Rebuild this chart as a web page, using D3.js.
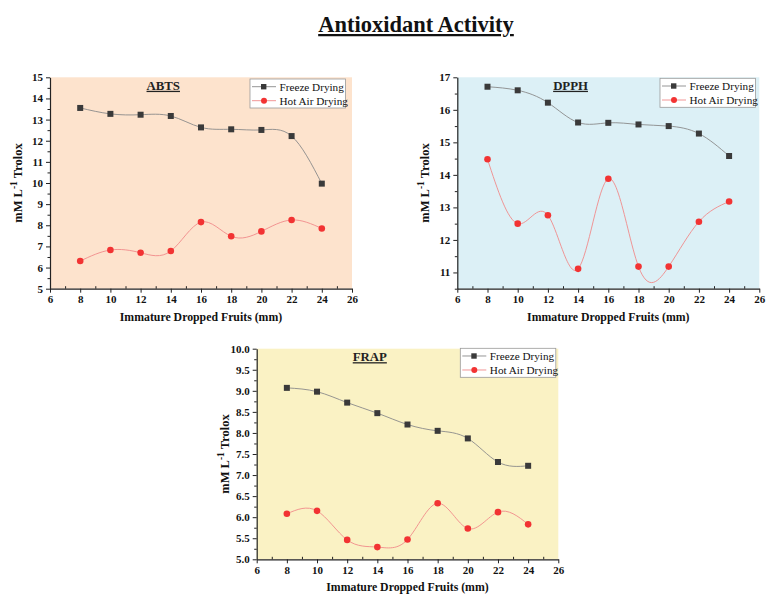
<!DOCTYPE html>
<html><head><meta charset="utf-8">
<script src="https://cdn.jsdelivr.net/npm/d3@7/dist/d3.min.js"></script>
<style>
body{margin:0;background:#fff;}
svg{display:block;}
</style></head>
<body>
<svg id="chart" width="776" height="605"></svg>
<script>
// ---- data ----
const sizes = [8, 10, 12, 14, 16, 18, 20, 22, 24];
const seriesNames = ["Freeze Drying", "Hot Air Drying"];
const abtsFreeze = [13.55, 13.27, 13.23, 13.17, 12.63, 12.54, 12.51, 12.22, 9.97];
const abtsHot    = [6.31, 6.83, 6.70, 6.78, 8.15, 7.48, 7.71, 8.25, 7.85];
const dpphFreeze = [16.71, 16.60, 16.22, 15.61, 15.60, 15.55, 15.50, 15.27, 14.58];
const dpphHot    = [14.48, 12.50, 12.76, 11.11, 13.88, 11.18, 11.18, 12.56, 13.18];
const frapFreeze = [9.07, 8.98, 8.72, 8.47, 8.20, 8.05, 7.87, 7.31, 7.22];
const frapHot    = [6.08, 6.15, 5.46, 5.29, 5.47, 6.33, 5.73, 6.12, 5.83];
const xTicks = [6, 8, 10, 12, 14, 16, 18, 20, 22, 24, 26];
const abtsTicks = [5, 6, 7, 8, 9, 10, 11, 12, 13, 14, 15];
const dpphTicks = [11, 12, 13, 14, 15, 16, 17];
const frapTicks = [5.0, 5.5, 6.0, 6.5, 7.0, 7.5, 8.0, 8.5, 9.0, 9.5, 10.0];

// ---- layout ----
const panels = [
  {name: "ABTS", freeze: abtsFreeze, hot: abtsHot, yDom: [5, 15], yTicks: abtsTicks, yMinor: 0.5, fmt: d3.format("d"),
   box: {l: 50, r: 352, t: 77.3, b: 288.7}, bg: "#fde3cd", lx: 250, ly: 79},
  {name: "DPPH", freeze: dpphFreeze, hot: dpphHot, yDom: [10.5, 17], yTicks: dpphTicks, yMinor: 0.5, fmt: d3.format("d"),
   box: {l: 457.3, r: 759.3, t: 77.3, b: 288.7}, bg: "#dcf0f6", lx: 660, ly: 78.3},
  {name: "FRAP", freeze: frapFreeze, hot: frapHot, yDom: [5, 10], yTicks: frapTicks, yMinor: 0.25, fmt: d3.format(".1f"),
   box: {l: 256.7, r: 558.3, t: 348.7, b: 559.3}, bg: "#faf2c4", lx: 460.3, ly: 348.3}
];
const freezeColor = "#3a3a3a", freezeLine = "#8a8a8a";
const hotColor = "#f23333", hotLine = "#f08a8a";
const FONT = "'Liberation Serif', 'Times New Roman', serif";

const svg = d3.select("#chart").attr("font-family", FONT);

svg.append("text").attr("x", 416).attr("y", 32).attr("text-anchor", "middle")
  .attr("font-family", FONT).attr("font-size", 22.5).attr("font-weight", "bold").attr("fill", "#111")
  .attr("text-decoration", "underline").text("Antioxidant Activity");

panels.forEach(p => {
  const b = p.box;
  const x = d3.scaleLinear().domain([6, 26]).range([b.l, b.r]);
  const y = d3.scaleLinear().domain(p.yDom).range([b.b, b.t]);
  const g = svg.append("g");

  g.append("rect").attr("x", b.l).attr("y", b.t).attr("width", b.r - b.l).attr("height", b.b - b.t).attr("fill", p.bg);

  // x axis
  const xMinor = d3.range(7, 26, 2);
  g.append("g").attr("transform", `translate(0,${b.b})`)
    .call(d3.axisBottom(x).tickValues(xMinor).tickSize(-2.5).tickFormat(""))
    .call(a => a.select(".domain").remove())
    .call(a => a.selectAll("line").attr("stroke", "#222"));
  const xa = g.append("g").attr("transform", `translate(0,${b.b})`)
    .call(d3.axisBottom(x).tickValues(xTicks).tickSize(4).tickSizeOuter(0).tickPadding(3));
  xa.attr("font-family", FONT).attr("font-size", null);
  xa.select(".domain").attr("stroke", "#222").attr("stroke-width", 1.2);
  xa.selectAll("line").attr("stroke", "#222");
  xa.selectAll("text").attr("font-family", FONT).attr("font-weight", "bold").attr("font-size", 11).attr("fill", "#111");

  // y axis
  const yMinor = d3.range(p.yDom[0], p.yDom[1] + 1e-9, p.yMinor).filter(v => !p.yTicks.some(t => Math.abs(t - v) < 1e-9));
  g.append("g").attr("transform", `translate(${b.l},0)`)
    .call(d3.axisLeft(y).tickValues(yMinor).tickSize(2.5).tickFormat(""))
    .call(a => a.select(".domain").remove())
    .call(a => a.selectAll("line").attr("stroke", "#222"));
  const ya = g.append("g").attr("transform", `translate(${b.l},0)`)
    .call(d3.axisLeft(y).tickValues(p.yTicks).tickSize(4).tickSizeOuter(0).tickPadding(3).tickFormat(p.fmt));
  ya.attr("font-family", FONT).attr("font-size", null);
  ya.select(".domain").attr("stroke", "#222").attr("stroke-width", 1.2);
  ya.selectAll("line").attr("stroke", "#222");
  ya.selectAll("text").attr("font-family", FONT).attr("font-weight", "bold").attr("font-size", 11).attr("fill", "#111");

  // axis titles
  g.append("text").attr("x", (b.l + b.r) / 2).attr("y", b.b + 32).attr("text-anchor", "middle")
    .attr("font-family", FONT).attr("font-size", 11.8).attr("font-weight", "bold").attr("fill", "#111").text("Immature Dropped Fruits (mm)");
  const yl = g.append("text").attr("transform", `translate(${b.l - 28},${(b.t + b.b) / 2}) rotate(-90)`)
    .attr("text-anchor", "middle").attr("font-family", FONT).attr("font-size", 12.5).attr("font-weight", "bold").attr("fill", "#111");
  yl.append("tspan").text("mM L");
  yl.append("tspan").attr("dy", -5).attr("font-size", 9.5).text("-1");
  yl.append("tspan").attr("dy", 5).text(" Trolox");

  // panel title
  g.append("text").attr("x", x(13.5)).attr("y", b.t + 12.5).attr("text-anchor", "middle")
    .attr("font-family", FONT).attr("font-size", 12.8).attr("font-weight", "bold").attr("fill", "#222")
    .attr("text-decoration", "underline").text(p.name);

  // lines
  const line = d3.line().x((d, i) => x(sizes[i])).y(d => y(d)).curve(d3.curveNatural);
  g.append("path").attr("d", line(p.freeze)).attr("fill", "none").attr("stroke", freezeLine).attr("stroke-width", 0.9);
  g.append("path").attr("d", line(p.hot)).attr("fill", "none").attr("stroke", hotLine).attr("stroke-width", 0.9);

  g.selectAll(".sq").data(p.freeze).enter().append("rect")
    .attr("x", (d, i) => x(sizes[i]) - 3).attr("y", d => y(d) - 3).attr("width", 6).attr("height", 6).attr("fill", freezeColor);
  g.selectAll(".ci").data(p.hot).enter().append("circle")
    .attr("cx", (d, i) => x(sizes[i])).attr("cy", d => y(d)).attr("r", 3.3).attr("fill", hotColor);

  // legend
  const lg = g.append("g").attr("transform", `translate(${p.lx},${p.ly})`);
  lg.append("rect").attr("width", 95.5).attr("height", 29).attr("fill", "#fff").attr("stroke", "#999").attr("stroke-width", 0.8);
  seriesNames.forEach((n, i) => {
    const cy = 7.7 + i * 14;
    lg.append("line").attr("x1", 2).attr("x2", 26).attr("y1", cy).attr("y2", cy)
      .attr("stroke", i === 0 ? freezeLine : hotLine).attr("stroke-width", 0.9);
    if (i === 0) lg.append("rect").attr("x", 11).attr("y", cy - 2.7).attr("width", 5.4).attr("height", 5.4).attr("fill", freezeColor);
    else lg.append("circle").attr("cx", 14).attr("cy", cy).attr("r", 3).attr("fill", hotColor);
    lg.append("text").attr("x", 29.5).attr("y", cy + 4).attr("font-family", FONT).attr("font-size", 11.2).attr("fill", "#111").text(n);
  });
});
</script></body></html>
